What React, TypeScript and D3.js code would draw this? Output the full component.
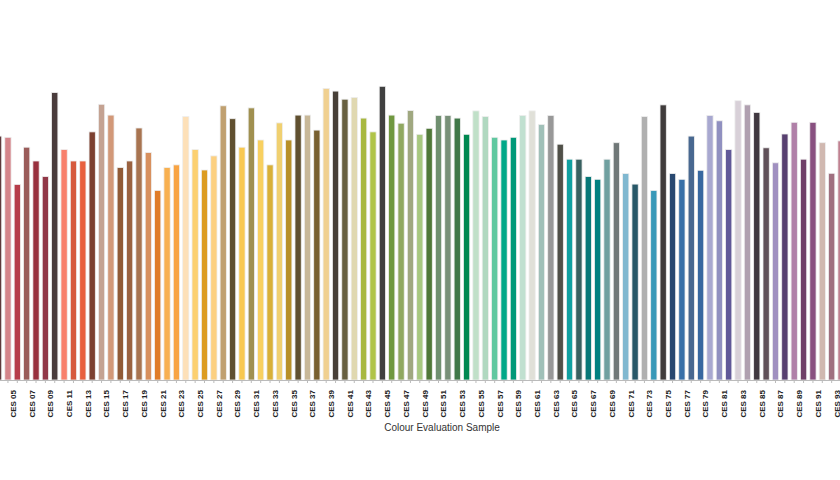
import React, { useEffect, useRef } from "react";
import * as d3 from "d3";

const sampleNumbers: number[] = d3.range(3, 94);
const categories: string[] = sampleNumbers.map((n) => `CES ${String(n).padStart(2, "0")}`);

const values: number[] = [
  81.3, 80.9, 65.2, 77.6, 73.0, 67.8, 95.8, 76.8, 73.0, 73.0,
  82.7, 91.9, 88.3, 70.8, 73.0, 84.0, 75.8, 63.2, 70.8, 71.7,
  87.8, 76.8, 70.0, 74.7, 91.4, 87.1, 77.6, 90.7, 80.0, 71.7,
  85.7, 80.0, 88.3, 88.3, 83.3, 97.2, 96.3, 93.6, 94.2, 87.3,
  82.7, 97.9, 88.3, 85.6, 89.8, 81.9, 83.9, 88.2, 88.2, 87.3,
  81.9, 89.7, 87.8, 80.9, 80.0, 80.9, 88.2, 89.7, 85.2, 88.2,
  78.6, 73.6, 73.6, 67.8, 66.9, 73.6, 79.1, 68.8, 65.3, 87.8,
  63.2, 91.7, 68.8, 66.9, 81.3, 69.9, 88.2, 86.4, 76.8, 93.1,
  91.7, 89.2, 77.4, 72.4, 82.0, 85.9, 73.6, 85.9, 79.1, 68.9,
  79.7,
];

const colours: string[] = [
  "#5e3a3c", "#d4848a", "#b63d4a", "#9a5c5a", "#98303e", "#923848", "#4a3c3c", "#f8806c", "#d65a3e", "#e8603e",
  "#7c4030", "#c4a292", "#d29878", "#905a36", "#9a6240", "#a87450", "#d8905e", "#e07c28", "#f8b050", "#f8a444",
  "#fde0b8", "#fcd070", "#dc9c20", "#fcd080", "#c0a070", "#605030", "#f8c850", "#a09050", "#f8d060", "#d8b038",
  "#f0d070", "#b89028", "#605030", "#c8b898", "#786030", "#f0d090", "#484038", "#686040", "#e0d8b0", "#a8b840",
  "#b0c448", "#404040", "#709840", "#90a860", "#a0a880", "#a8c880", "#507838", "#709070", "#789078", "#407848",
  "#008850", "#c0e0c8", "#b0d8c0", "#60c8a0", "#00a888", "#009878", "#c0e0d0", "#e0e0d8", "#a0c0b8", "#989898",
  "#505048", "#10a0a0", "#386060", "#087878", "#008080", "#70a0a0", "#707878", "#80b8d0", "#285868", "#b0b0b0",
  "#3898b8", "#403c3c", "#284870", "#3870a8", "#486890", "#3868a0", "#a8a8d0", "#9090c0", "#605898", "#d8d0d8",
  "#b0a0b0", "#403840", "#605058", "#a090c0", "#584070", "#b080a8", "#704068", "#885080", "#d0b8b0", "#a07080",
  "#c08090",
];

const axisTitle = "Colour Evaluation Sample";

const W = 840;
const H = 480;

export default function App() {
  const ref = useRef<SVGSVGElement | null>(null);

  useEffect(() => {
    document.body.style.margin = "0";
    const svg = d3.select(ref.current);
    svg.selectAll("*").remove();

    const baseY = 380;
    const x = d3
      .scaleBand<string>()
      .domain(categories)
      .range([-6.1, 845.7])
      .paddingInner(0.33)
      .paddingOuter(0.165);
    const y = d3.scaleLinear().domain([0, 100]).range([baseY, 80]);

    const data = categories.map((c, i) => ({ c, v: values[i], col: colours[i] }));

    svg
      .append("g")
      .selectAll("rect")
      .data(data)
      .join("rect")
      .attr("x", (d) => x(d.c)!)
      .attr("y", (d) => y(d.v))
      .attr("width", x.bandwidth())
      .attr("height", (d) => baseY - y(d.v))
      .attr("fill", (d) => d.col)
      .attr("stroke", "#eeeeee")
      .attr("stroke-width", 0.8);

    const axis = d3
      .axisBottom(x)
      .tickSize(3)
      .tickSizeOuter(0)
      .tickFormat((d, i) => (sampleNumbers[i] % 2 === 1 ? d : ""));

    const g = svg.append("g").attr("transform", `translate(0,${baseY})`).call(axis);
    g.select(".domain").attr("stroke", "#bbbbbb");
    g.selectAll(".tick line").attr("stroke", "#bbbbbb");
    g.selectAll(".tick text")
      .attr("font-family", "'Liberation Sans', Arial, Helvetica, sans-serif")
      .attr("font-size", 8)
      .attr("font-weight", "bold")
      .attr("fill", "#222")
      .attr("text-anchor", "end")
      .attr("transform", "rotate(-90)")
      .attr("x", -10)
      .attr("y", 0)
      .attr("dy", "-0.19em");

    svg
      .append("text")
      .attr("x", 442)
      .attr("y", 431)
      .attr("text-anchor", "middle")
      .attr("font-family", "'Liberation Sans', Arial, Helvetica, sans-serif")
      .attr("font-size", 10)
      .attr("fill", "#333")
      .text(axisTitle);
  }, []);

  return <svg ref={ref} width={W} height={H} style={{ display: "block" }} />;
}
